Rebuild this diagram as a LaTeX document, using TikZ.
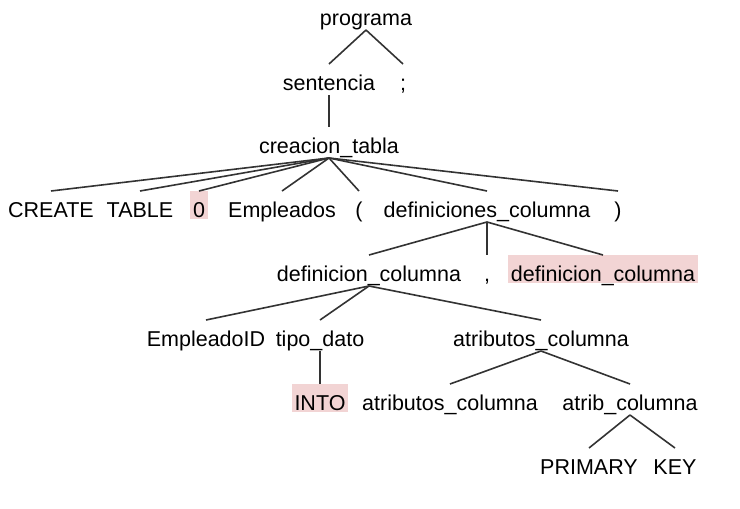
\documentclass[tikz,border=0pt]{standalone}
\usepackage{fontspec}
\setmainfont{Liberation Sans}
\definecolor{hl}{RGB}{242,212,212}
\definecolor{edge}{RGB}{51,51,51}
\begin{document}
\begin{tikzpicture}[x=1pt,y=-1pt,
  every node/.style={font=\fontsize{21.5}{25}\selectfont, inner sep=0pt, outer sep=0pt,
    text height=26pt, text depth=5pt, anchor=base},
  hlbox/.style={fill=hl, text depth=2pt, inner xsep=3pt},
  edgeline/.style={draw=edge, line width=1.6pt}]
\useasboundingbox (0,0) rectangle (740,509);
% level 1
\node (prog) at (366,25) {programa};
% level 2
\node (sent) at (329,90) {sentencia};
\node (semi) at (403,90) {;};
% level 3
\node (crea) at (329,153) {creacion\_tabla};
% level 4
\node (create) at (51,217) {CREATE};
\node (table) at (140,217) {TABLE};
\node[hlbox] (zero) at (199,217) {0};
\node (emp) at (282,217) {Empleados};
\node (lpar) at (359,217) {(};
\node (defs) at (487,217) {definiciones\_columna};
\node (rpar) at (618,217) {)};
% level 5
\node (def1) at (369,281) {definicion\_columna};
\node (comma) at (487,281) {,};
\node[hlbox] (def2) at (603,281) {definicion\_columna};
% level 6
\node (empid) at (206,346) {EmpleadoID};
\node (tipo) at (320,346) {tipo\_dato};
\node (attrs) at (541,346) {atributos\_columna};
% level 7
\node[hlbox] (into) at (320,410) {INTO};
\node (attrs2) at (450,410) {atributos\_columna};
\node (atrib) at (630,410) {atrib\_columna};
% level 8
\node (prim) at (589,474) {PRIMARY};
\node (key) at (675,474) {KEY};
% edges
\draw[edgeline] (prog.south) -- (sent.north);
\draw[edgeline] (prog.south) -- (semi.north);
\draw[edgeline] (sent.south) -- (crea.north);
\foreach \c in {create,table,zero,emp,lpar,defs,rpar}
  \draw[edgeline] (crea.south) -- (\c.north);
\foreach \c in {def1,comma,def2}
  \draw[edgeline] (defs.south) -- (\c.north);
\foreach \c in {empid,tipo,attrs}
  \draw[edgeline] (def1.south) -- (\c.north);
\draw[edgeline] (tipo.south) -- (into.north);
\draw[edgeline] (attrs.south) -- (attrs2.north);
\draw[edgeline] (attrs.south) -- (atrib.north);
\draw[edgeline] (atrib.south) -- (prim.north);
\draw[edgeline] (atrib.south) -- (key.north);
\end{tikzpicture}
\end{document}
